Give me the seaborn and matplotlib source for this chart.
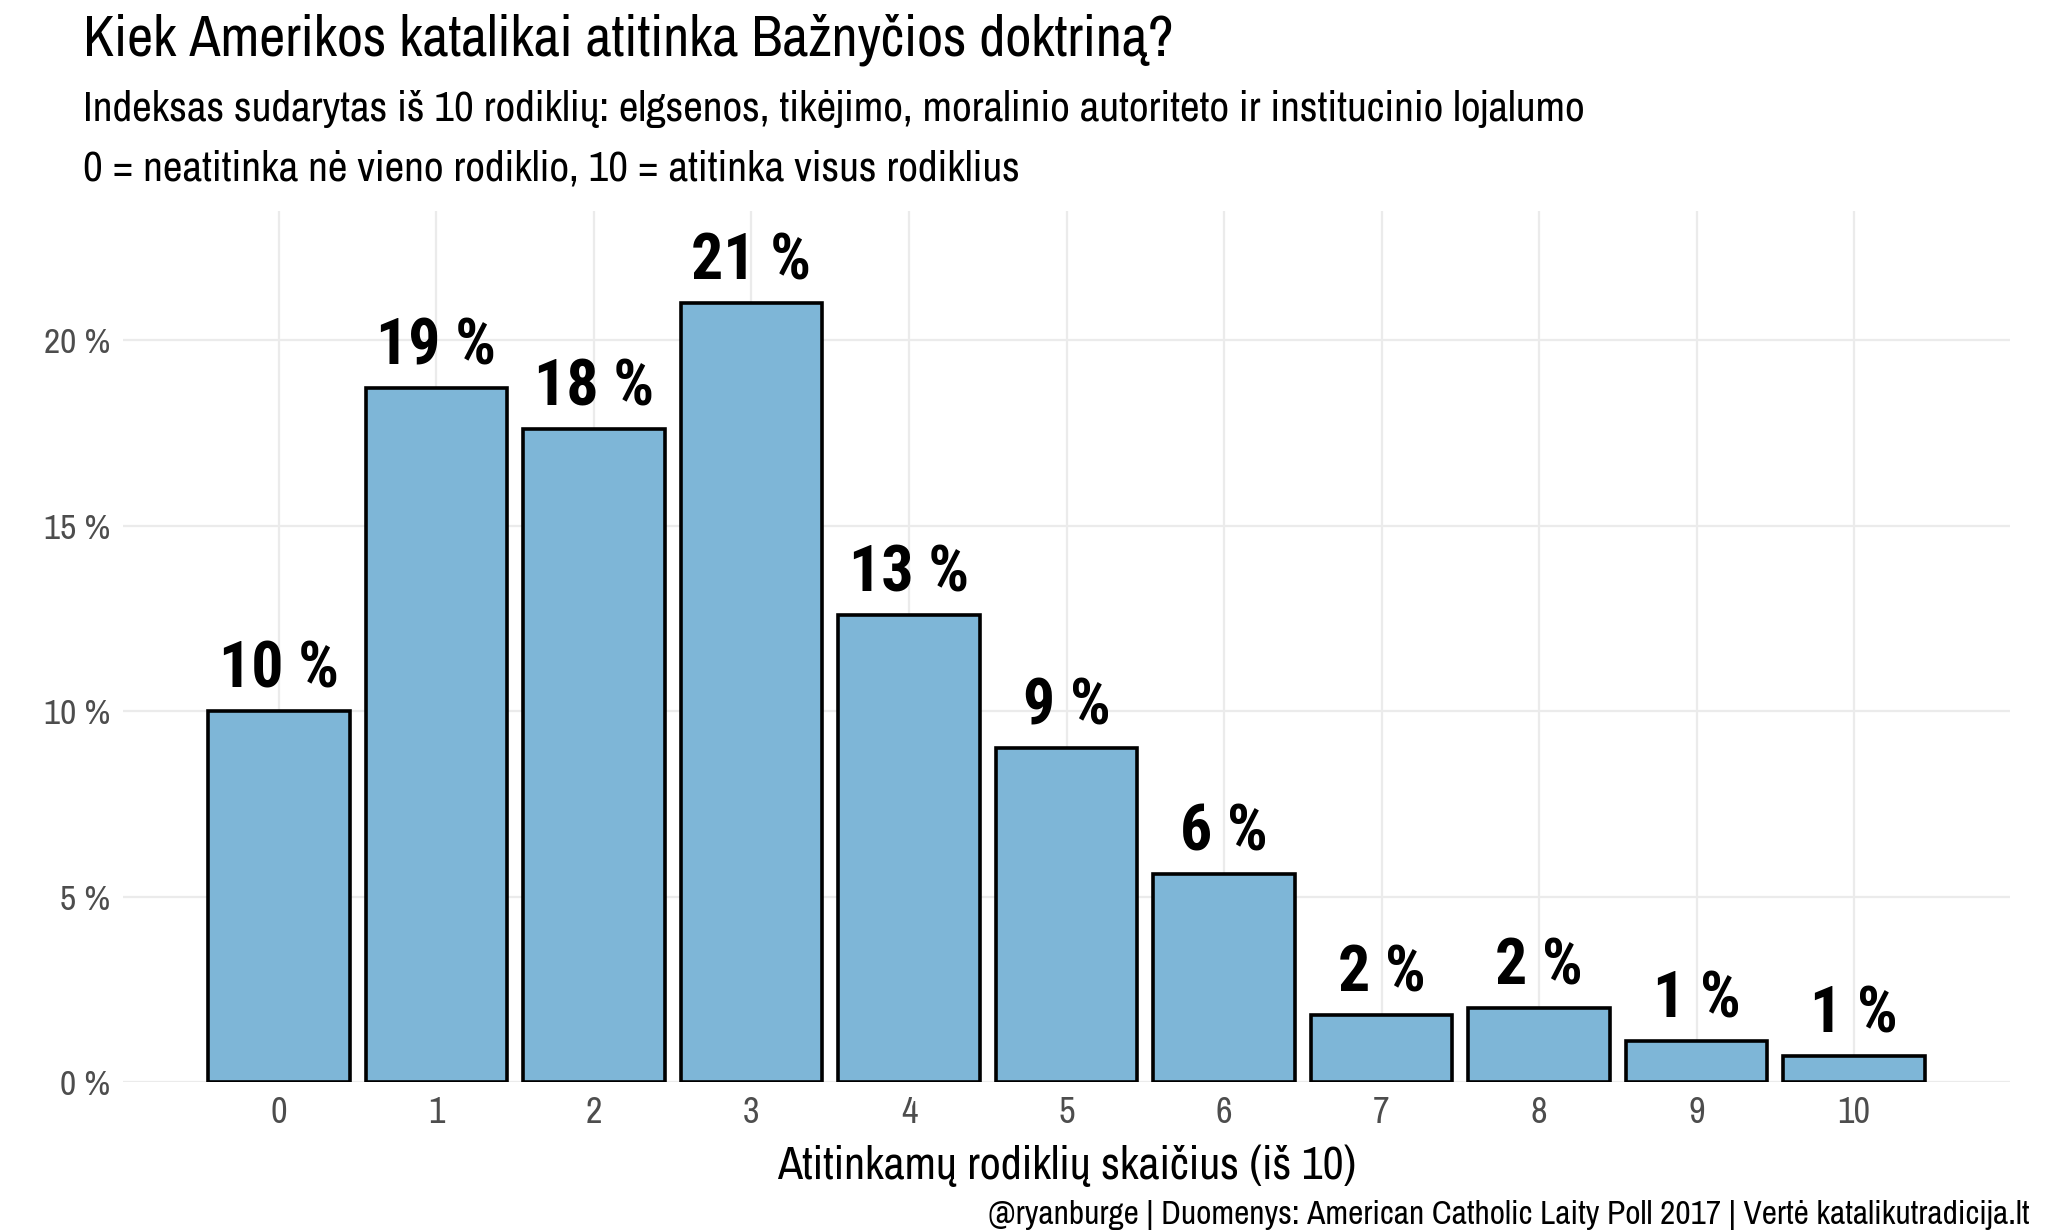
import matplotlib
matplotlib.use('Agg')
import matplotlib.pyplot as plt
from matplotlib import font_manager
import seaborn as sns

# data
categories = ['0', '1', '2', '3', '4', '5', '6', '7', '8', '9', '10']
shares = [10.0, 18.7, 17.6, 21.0, 12.6, 9.0, 5.6, 1.8, 2.0, 1.1, 0.7]
y_ticks = [0, 5, 10, 15, 20]

title = 'Kiek Amerikos katalikai atitinka Bažnyčios doktriną?'
subtitle_1 = ('Indeksas sudarytas iš 10 rodiklių: elgsenos, tikėjimo, '
              'moralinio autoriteto ir institucinio lojalumo')
subtitle_2 = '0 = neatitinka nė vieno rodiklio, 10 = atitinka visus rodiklius'
x_title = 'Atitinkamų rodiklių skaičius (iš 10)'
caption = ('@ryanburge | Duomenys: American Catholic Laity Poll 2017 | '
           'Vertė katalikutradicija.lt')

sns.set_style('white')

# pick an Arial Narrow look-alike that is installed
fonts = font_manager.fontManager.ttflist
wanted = ['Liberation Sans Narrow', 'Arial Narrow', 'Archivo Narrow',
          'Roboto Condensed', 'PT Sans Narrow', 'Liberation Sans']
names = {f.name for f in fonts}
family = next(n for n in wanted if n in names)
bold_names = {f.name for f in fonts if f.weight in (700, 'bold')}
bold_family = next((n for n in wanted if n in bold_names and n in names), family)
plt.rcParams['font.family'] = [family, 'DejaVu Sans']

W, H = 2048, 1230
fig = plt.figure(figsize=(W / 100, H / 100), dpi=100)
# panel from x=123..2010 px, y=211..1082 px
ax = fig.add_axes([123 / W, 1 - 1082 / H, 1887 / W, 871 / H])

sns.barplot(x=categories, y=shares, color='#7EB6D7', saturation=1,
            width=0.9, edgecolor='black', linewidth=2.6, ax=ax, zorder=3)

# rounded percentage above each bar
labels = [f'{round(v)} %' for v in shares]
ax.bar_label(ax.containers[0], labels=labels, padding=7.5,
             fontsize=46, fontweight='bold', color='black',
             family=[bold_family, 'DejaVu Sans'])

ax.set_xlim(-0.99, 10.99)
ax.set_ylim(0, 23.48)
ax.set_yticks(y_ticks)
ax.set_yticklabels([f'{t} %' for t in y_ticks])
ax.grid(True, color='#EBEBEB', linewidth=1.6, zorder=0)
ax.set_axisbelow(True)
for side in ax.spines.values():
    side.set_visible(False)
ax.tick_params(axis='both', length=0, labelcolor='#4D4D4D')
ax.tick_params(axis='x', pad=10, labelsize=26)
ax.tick_params(axis='y', pad=9, labelsize=25.5)
ax.set_xlabel(x_title, fontsize=33, color='black', labelpad=11)
ax.set_ylabel('')

fig.text(83 / W, 1 - 56 / H, title, fontsize=41, va='baseline', color='black')
fig.text(83 / W, 1 - 121 / H, subtitle_1, fontsize=31, va='baseline',
         color='black')
fig.text(83 / W, 1 - 181 / H, subtitle_2, fontsize=31, va='baseline',
         color='black')
fig.text(2030 / W, 1 - 1224 / H, caption, fontsize=24,
         ha='right', va='baseline', color='black')

fig.savefig('out.png', dpi=100)
